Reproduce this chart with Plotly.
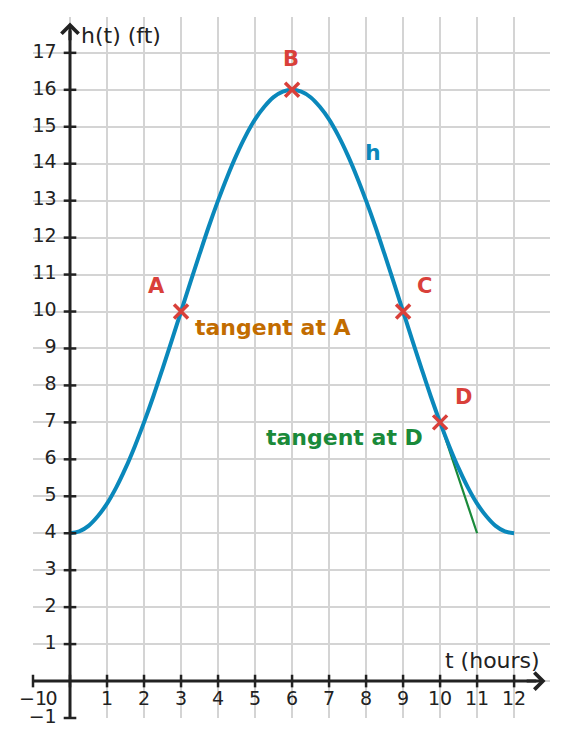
import plotly.graph_objects as go

# ---- data ----
t_vals = [0, 0.25, 0.5, 0.75, 1, 1.25, 1.5, 1.75, 2, 2.25, 2.5, 2.75, 3,
          3.25, 3.5, 3.75, 4, 4.25, 4.5, 4.75, 5, 5.25, 5.5, 5.75, 6,
          6.25, 6.5, 6.75, 7, 7.25, 7.5, 7.75, 8, 8.25, 8.5, 8.75, 9,
          9.25, 9.5, 9.75, 10, 10.25, 10.5, 10.75, 11, 11.25, 11.5, 11.75, 12]
h_vals = [4.00, 4.05, 4.20, 4.46, 4.80, 5.24, 5.76, 6.35, 7.00, 7.70, 8.45, 9.22, 10.00,
          10.78, 11.55, 12.30, 13.00, 13.65, 14.24, 14.76, 15.20, 15.54, 15.80, 15.95, 16.00,
          15.95, 15.80, 15.54, 15.20, 14.76, 14.24, 13.65, 13.00, 12.30, 11.55, 10.78, 10.00,
          9.22, 8.45, 7.70, 7.00, 6.35, 5.76, 5.24, 4.80, 4.46, 4.20, 4.05, 4.00]

point_names = ["A", "B", "C", "D"]
point_t = [3, 6, 9, 10]
point_h = [10, 16, 10, 7]

tangent_d_t = [10, 11]
tangent_d_h = [7, 4]

x_ticks = list(range(1, 13))
y_ticks = list(range(1, 18))

FONT = "DejaVu Sans"
BLUE = "#0a88bb"
RED = "#d9403a"
ORANGE = "#c26c00"
GREEN = "#1a8a3a"
AX = "#222222"

fig = go.Figure()

# tangent at D
fig.add_trace(go.Scatter(x=tangent_d_t, y=tangent_d_h, mode="lines",
                         line=dict(color=GREEN, width=2.2), hoverinfo="skip"))
# curve h
fig.add_trace(go.Scatter(x=t_vals, y=h_vals, mode="lines",
                         line=dict(color=BLUE, width=4, shape="spline"),
                         hoverinfo="skip"))

# axis lines
fig.add_trace(go.Scatter(x=[-1, 12.6], y=[0, 0], mode="lines",
                         line=dict(color=AX, width=3), hoverinfo="skip"))
fig.add_trace(go.Scatter(x=[0, 0], y=[-1, 17.6], mode="lines",
                         line=dict(color=AX, width=3), hoverinfo="skip"))

# tick marks
fig.add_trace(go.Scatter(x=[-1, 0] + x_ticks, y=[0] * (len(x_ticks) + 2), mode="markers",
                         marker=dict(symbol="line-ns", size=9,
                                     line=dict(color=AX, width=2.5)),
                         hoverinfo="skip", cliponaxis=False))
fig.add_trace(go.Scatter(x=[0] * (len(y_ticks) + 1), y=[-1] + y_ticks, mode="markers",
                         marker=dict(symbol="line-ew", size=9,
                                     line=dict(color=AX, width=2.5)),
                         hoverinfo="skip", cliponaxis=False))

# tick labels
fig.add_trace(go.Scatter(x=[-1, -0.5] + x_ticks, y=[-0.52] * (len(x_ticks) + 2),
                         mode="text", text=["\u22121", "0"] + [str(v) for v in x_ticks],
                         textposition="middle center",
                         textfont=dict(family=FONT, size=19, color=AX),
                         hoverinfo="skip", cliponaxis=False))
fig.add_trace(go.Scatter(x=[-0.36] * (len(y_ticks) + 1), y=[-1.0] + y_ticks,
                         mode="text", text=["\u22121"] + [str(v) for v in y_ticks],
                         textposition="middle left",
                         textfont=dict(family=FONT, size=19, color=AX),
                         hoverinfo="skip", cliponaxis=False))

# points
fig.add_trace(go.Scatter(x=point_t, y=point_h, mode="markers",
                         marker=dict(symbol="x-thin", size=14,
                                     line=dict(color=RED, width=3.5)),
                         hoverinfo="skip", cliponaxis=False))

annotations = []
# arrows
annotations.append(dict(x=12.85, y=0, ax=12.3, ay=0, xref="x", yref="y",
                        axref="x", ayref="y", showarrow=True, arrowhead=4,
                        arrowsize=1.1, arrowwidth=3, arrowcolor=AX, text=""))
annotations.append(dict(x=0, y=17.82, ax=0, ay=17.3, xref="x", yref="y",
                        axref="x", ayref="y", showarrow=True, arrowhead=4,
                        arrowsize=1.1, arrowwidth=3, arrowcolor=AX, text=""))

def label(x, y, text, color, bold=False, xanchor="center", size=22):
    t = f"<b>{text}</b>" if bold else text
    annotations.append(dict(x=x, y=y, xref="x", yref="y", text=t, showarrow=False,
                            xanchor=xanchor, yanchor="middle",
                            font=dict(family=FONT, size=size, color=color)))

label(0.24, 17.46, "h(t) (ft)", AX, xanchor="left", size=22)
label(10.08, 0.55, "t (hours)", AX, xanchor="left", size=22)

label_pos = {"A": (2.35, 10.68), "B": (5.97, 16.84), "C": (9.57, 10.68), "D": (10.62, 7.68)}
for n in point_names:
    lx, ly = label_pos[n]
    label(lx, ly, n, RED, bold=True, size=21)

label(8.18, 14.3, "h", BLUE, bold=True, size=22)
label(3.32, 9.57, "tangent at A", ORANGE, bold=True, xanchor="left", size=22)
label(9.6, 6.6, "tangent at D", GREEN, bold=True, xanchor="right", size=22)

# the page body adds an 8px margin, so the figure is 8px smaller each way
fig.update_layout(
    width=560, height=739,
    margin=dict(l=25, r=18, t=9, b=29),
    paper_bgcolor="white", plot_bgcolor="white",
    showlegend=False,
    annotations=annotations,
    xaxis=dict(range=[-1, 12.97], dtick=1, tick0=0, showgrid=True,
               gridcolor="#d4d4d4", gridwidth=2, zeroline=False,
               showticklabels=False, showline=False, fixedrange=True),
    yaxis=dict(range=[-1, 17.97], dtick=1, tick0=0, showgrid=True,
               gridcolor="#d4d4d4", gridwidth=2, zeroline=False,
               showticklabels=False, showline=False, fixedrange=True),
)

fig.write_html("out.html")
